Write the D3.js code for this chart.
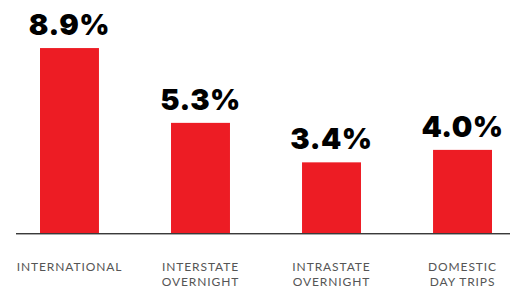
<!DOCTYPE html>
<html>
<head>
  <meta charset="utf-8"><script src="https://d3js.org/d3.v7.min.js"></script>
  <style>
    body { margin: 0; background: white; }
  </style>
</head>
<body onload="execute()">
  <svg id="mychart" width="510" height="287" style="background: white"></svg>
</body>
<script>
  const categories = ["INTERNATIONAL", "INTERSTATE OVERNIGHT", "INTRASTATE OVERNIGHT", "DOMESTIC DAY TRIPS"]
  const labelLines = [["INTERNATIONAL"], ["INTERSTATE", "OVERNIGHT"], ["INTRASTATE", "OVERNIGHT"], ["DOMESTIC", "DAY TRIPS"]]
  const values = [8.9, 5.3, 3.4, 4.0]

  function execute() {
    const width = 510, height = 287
    const baseline = 233

    const data = categories.map((c, i) => ({cat: c, value: values[i], lines: labelLines[i]}))

    const x = d3.scaleBand()
      .domain(categories)
      .range([40, 492])
      .paddingInner(0.55)
      .paddingOuter(0)

    const y = d3.scaleLinear()
      .domain([0, 10])
      .range([baseline, baseline - 207.8])

    const svg = d3.select("#mychart")

    svg.append("g").selectAll("rect")
      .data(data)
      .join("rect")
        .attr("x", d => x(d.cat))
        .attr("y", d => y(d.value))
        .attr("width", x.bandwidth())
        .attr("height", d => y(0) - y(d.value))
        .attr("fill", "#ed1c24")

    // baseline
    svg.append("line")
      .attr("x1", 16).attr("x2", width)
      .attr("y1", baseline + 0.5).attr("y2", baseline + 0.5)
      .attr("stroke", "#3a3a3a")
      .attr("stroke-width", 1)
    svg.append("line")
      .attr("x1", 16).attr("x2", width)
      .attr("y1", baseline + 1.5).attr("y2", baseline + 1.5)
      .attr("stroke", "#aaa")
      .attr("stroke-width", 1)

    // value labels
    svg.append("g").selectAll("text")
      .data(data)
      .join("text")
        .attr("x", d => x(d.cat) + x.bandwidth() / 2)
        .attr("y", d => y(d.value) - 13)
        .attr("text-anchor", "middle")
        .attr("font-family", "Inter, sans-serif")
        .attr("font-weight", 900)
        .attr("font-size", 29)
        .attr("letter-spacing", 0.5)
        .attr("fill", "#000")
        .text(d => d.value.toFixed(1) + "%")

    // category labels, one text per line
    const lines = data.flatMap(d => d.lines.map((l, i) => ({l, i, cx: x(d.cat) + x.bandwidth() / 2})))
    svg.append("g").selectAll("text")
      .data(lines)
      .join("text")
        .attr("x", d => d.cx)
        .attr("y", d => 270.5 + d.i * 15)
        .attr("text-anchor", "middle")
        .attr("font-family", "Lato, sans-serif")
        .attr("font-weight", 400)
        .attr("font-size", 12)
        .attr("letter-spacing", 0.9)
        .attr("fill", "#555")
        .text(d => d.l)
  }
</script>
</html>
